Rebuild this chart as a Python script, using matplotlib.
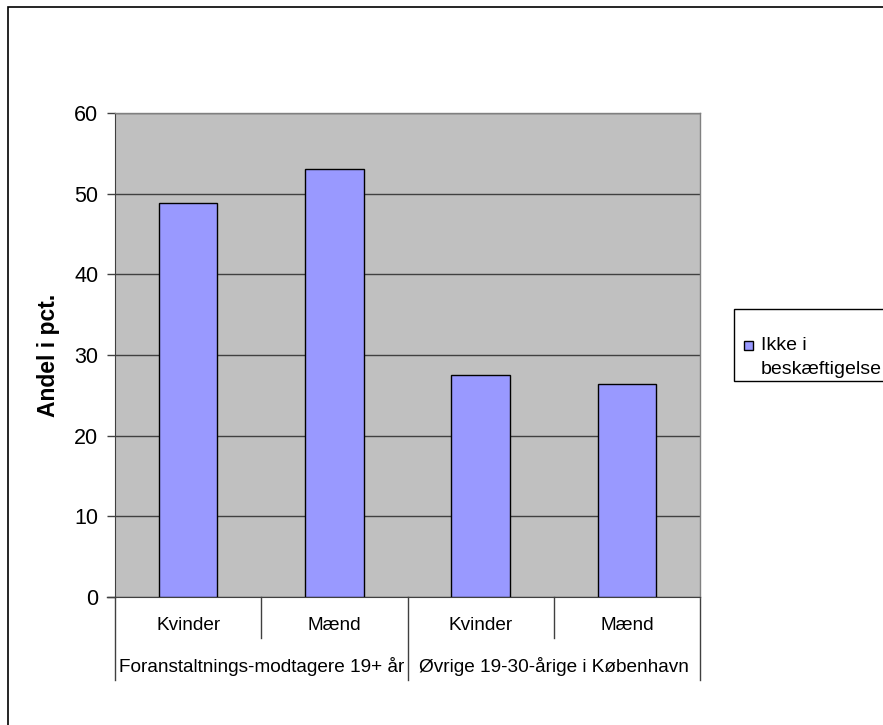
import matplotlib
matplotlib.use("Agg")
import matplotlib.pyplot as plt
from matplotlib.patches import Rectangle
from matplotlib.lines import Line2D

plt.rcParams['font.family'] = ['Liberation Sans', 'DejaVu Sans']

categories = ["Kvinder", "Mænd", "Kvinder", "Mænd"]
groups = ["Foranstaltnings-modtagere 19+ år", "Øvrige 19-30-årige i København"]
values = [48.8, 53.0, 27.5, 26.4]
series_name = "Ikke i\nbeskæftigelse"
yticks = [0, 10, 20, 30, 40, 50, 60]

W, H = 883, 725
fig = plt.figure(figsize=(W/100, H/100), dpi=100)

def fx(px): return px / W
def fy(py): return 1 - py / H

# outer border
fig.patches.append(Rectangle((fx(8), fy(730)), fx(900) - fx(8), fy(7) - fy(730),
                             transform=fig.transFigure, fill=False, edgecolor='black',
                             linewidth=1.2, zorder=0))

L, R, T, B = 115, 700, 113, 597
ax = fig.add_axes([fx(L), fy(B), fx(R) - fx(L), fy(T) - fy(B)])
ax.set_facecolor('#C0C0C0')

x = list(range(len(values)))
ax.bar(x, values, width=0.4, color='#9999FF', edgecolor='black', linewidth=1.0, zorder=3)
ax.set_xlim(-0.5, len(values) - 0.5)
ax.set_ylim(0, 60)
ax.set_yticks(yticks)
ax.set_yticklabels([str(t) for t in yticks], fontsize=15.5)
ax.yaxis.grid(True, color='#404040', linewidth=1.0, zorder=1)
ax.set_axisbelow(True)
ax.tick_params(axis='y', length=6, width=1, color='#404040', pad=6)
ax.set_xticks([])
for s in ['top', 'right']:
    ax.spines[s].set_color('#808080')
    ax.spines[s].set_linewidth(1.0)
ax.spines['left'].set_color('#404040')
ax.spines['bottom'].set_color('#404040')

ax.text(-(L - 48) / (R - L), 0.5, "Andel i pct.", transform=ax.transAxes, rotation=90,
        ha='center', va='center', fontsize=16.5, fontweight='bold')

trans = ax.get_xaxis_transform()
h = B - T
# category labels
for i, c in enumerate(categories):
    ax.text(i, -(625 - B) / h, c, transform=trans, ha='center', va='center', fontsize=13.7)
# group labels
for g, name in enumerate(groups):
    ax.text(2 * g + 0.5, -(666 - B) / h, name, transform=trans, ha='center', va='center', fontsize=13.7)
# separators
for xs in [-0.5, 0.5, 1.5, 2.5, 3.5]:
    major = xs in (-0.5, 1.5, 3.5)
    y1 = -(680 - B) / h if major else -(638 - B) / h
    ax.add_line(Line2D([xs, xs], [0, y1], transform=trans, color='#404040',
                       linewidth=1.0, clip_on=False))
# x-axis extension left
ax.add_line(Line2D([-0.5 - 8/146.25, -0.5], [0, 0], transform=trans, color='#404040',
                   linewidth=1.0, clip_on=False))

# legend box
fig.patches.append(Rectangle((fx(734), fy(381)), fx(900) - fx(734), fy(309) - fy(381),
                             transform=fig.transFigure, fill=True, facecolor='white',
                             edgecolor='black', linewidth=1.0, zorder=5))
fig.patches.append(Rectangle((fx(744), fy(350)), fx(753) - fx(744), fy(341) - fy(350),
                             transform=fig.transFigure, facecolor='#9999FF',
                             edgecolor='black', linewidth=1.0, zorder=6))
fig.text(fx(761), fy(345), "Ikke i", fontsize=14, ha='left', va='center', zorder=7)
fig.text(fx(761), fy(370), "beskæftigelse", fontsize=14, ha='left', va='center', zorder=7)

fig.savefig("out.png", dpi=100)
